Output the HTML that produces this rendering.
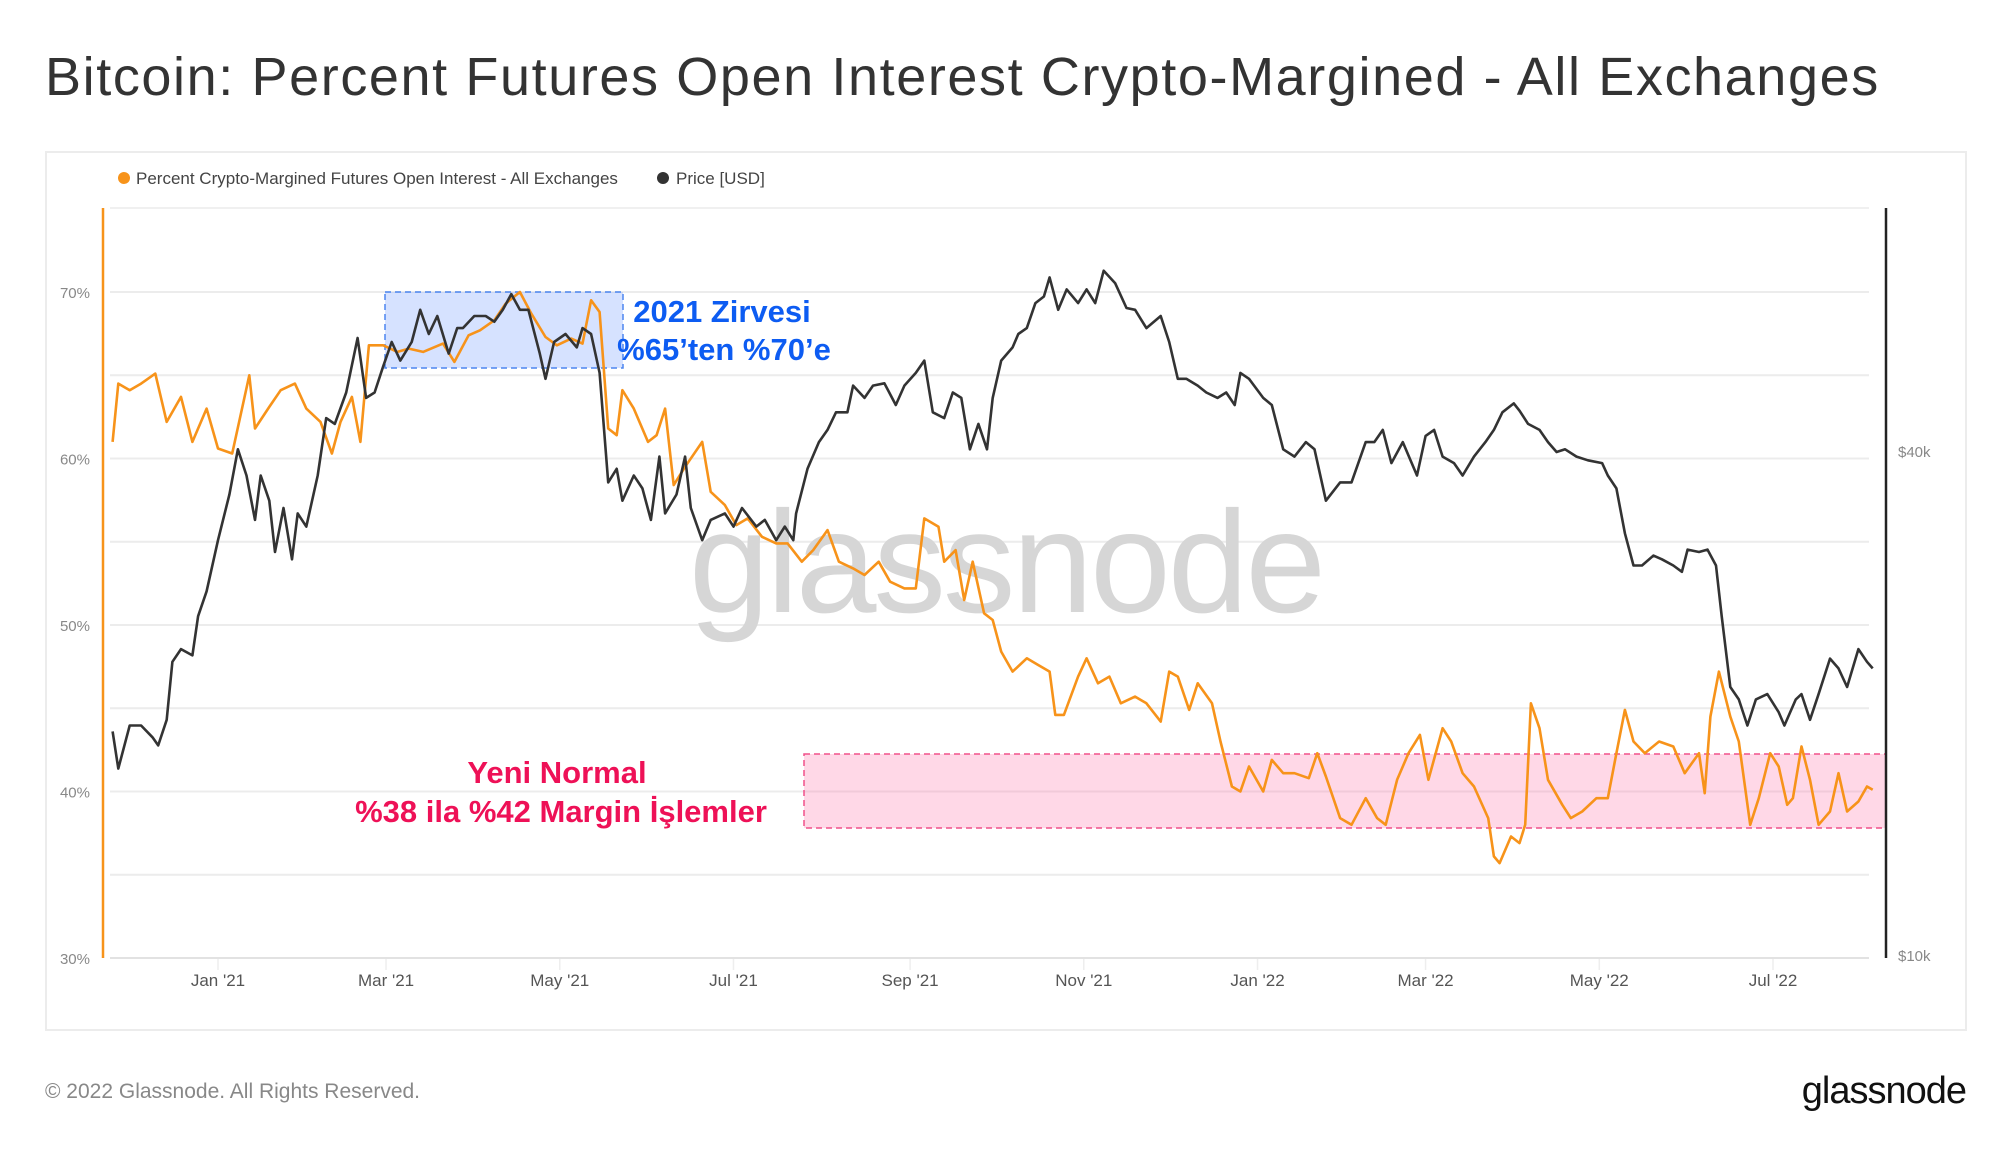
<!DOCTYPE html>
<html><head><meta charset="utf-8">
<style>
html,body{margin:0;padding:0;background:#fff;width:2000px;height:1152px;overflow:hidden;font-family:"Liberation Sans",sans-serif;}
#title{position:absolute;left:45px;top:46px;font-size:54px;letter-spacing:1.6px;color:#333;white-space:nowrap;}
#box{position:absolute;left:45px;top:151px;width:1922px;height:880px;border:2px solid #ececec;box-sizing:border-box;}
#foot{position:absolute;left:45px;top:1080px;font-size:21px;color:#888;}
#logo{position:absolute;right:34px;top:1070px;font-size:38px;color:#111;letter-spacing:-1px;}
svg{position:absolute;left:0;top:0;}
</style></head><body>
<div id="title">Bitcoin: Percent Futures Open Interest Crypto-Margined - All Exchanges</div>
<div id="box"></div>
<div id="foot">© 2022 Glassnode. All Rights Reserved.</div>
<div id="logo">glassnode</div>
<svg id="chart" width="2000" height="1152"></svg>
<script>
// day offsets from 2021-01-01
const pctDays=[-37,-35,-31,-27,-22,-18,-13,-9,-4,0,5,11,13,18,22,27,31,36,40,43,47,50,53,58,63,67,72,79,83,88,92,97,101,106,110,115,119,124,128,131,134,137,140,142,146,151,154,157,160,164,170,173,178,182,186,191,196,200,205,209,214,218,223,227,232,236,241,245,248,253,255,259,262,265,269,272,275,279,284,288,292,294,297,302,305,309,313,317,322,326,331,334,337,341,344,349,352,356,359,362,367,370,374,378,383,386,389,394,398,403,407,410,414,418,422,425,430,433,437,441,446,448,450,454,457,459,461,464,467,472,475,479,484,488,491,494,497,501,506,511,515,520,522,524,527,531,534,538,541,545,548,551,553,556,559,562,566,569,572,576,579,581];
const pctValues=[61,64.5,64.1,64.5,65.1,62.2,63.7,61,63,60.6,60.3,65,61.8,63.1,64.1,64.5,63,62.2,60.3,62.2,63.7,61,66.8,66.8,66.4,66.6,66.4,66.9,65.8,67.4,67.7,68.3,69.3,70,68.7,67.3,66.8,67.2,66.9,69.5,68.8,61.8,61.4,64.1,63,61,61.4,63,58.4,59.5,61,58,57.2,56,56.4,55.3,54.9,54.9,53.8,54.5,55.7,53.8,53.4,53,53.8,52.6,52.2,52.2,56.4,55.9,53.8,54.5,51.5,53.8,50.7,50.3,48.4,47.2,48,47.6,47.2,44.6,44.6,46.9,48,46.5,46.9,45.3,45.7,45.3,44.2,47.2,46.9,44.9,46.5,45.3,43,40.3,40,41.5,40,41.9,41.1,41.1,40.8,42.3,40.9,38.4,38,39.6,38.4,38,40.7,42.3,43.4,40.7,43.8,43,41.1,40.3,38.4,36.1,35.7,37.3,36.9,38,45.3,43.8,40.7,39.2,38.4,38.8,39.6,39.6,42.3,44.9,43,42.3,43,42.7,41.1,42.3,39.9,44.5,47.2,44.5,43,38,39.6,42.3,41.5,39.2,39.6,42.7,40.7,38,38.8,41.1,38.8,39.4,40.3,40.1];
const priceDays=[-37,-35,-31,-27,-23,-21,-18,-16,-13,-9,-7,-4,0,4,7,10,13,15,18,20,23,26,28,31,35,38,41,45,49,52,55,58,61,64,68,71,74,77,81,84,86,90,94,97,100,103,106,109,113,115,118,122,126,128,131,134,137,140,142,146,149,152,155,157,161,164,166,170,173,178,181,184,189,192,196,199,202,203,207,211,214,217,221,223,227,230,234,238,241,245,248,251,255,258,261,264,267,270,272,275,279,281,284,287,290,292,295,298,302,305,308,311,315,319,322,326,331,334,337,340,344,347,351,354,357,359,362,367,370,374,378,382,385,389,394,398,403,406,409,412,416,421,424,427,430,434,437,441,445,448,451,455,457,460,464,467,470,473,477,481,486,488,491,494,497,500,504,507,511,514,516,520,523,526,528,531,534,537,540,544,548,550,554,556,559,562,566,569,572,576,579,581];
const priceValues=[18.5,16.7,18.8,18.8,18.2,17.8,19.1,22.4,23.2,22.8,25.4,27.2,31.3,35.5,40.2,37.4,33.1,37.4,34.9,30.3,34.2,29.7,33.7,32.5,37.4,43.8,43.1,47,54.6,46.3,47,50.5,54,51.3,54,59,55.2,58,52.3,56.1,56.1,58,58,57.1,59,61.6,59,59,52.3,48.8,54,55.2,53.2,56.1,55.2,49.6,36.7,38.1,34.9,37.4,36.1,33.1,39.4,33.7,35.5,39.4,34.2,31.3,33.1,33.7,32.5,34.2,32.5,33.1,31.3,32.5,31.3,33.7,38.1,41,42.4,44.5,44.5,47.9,46.3,47.9,48.2,45.4,47.9,49.6,51.3,44.5,43.8,47,46.3,40.2,43.1,40.2,46.3,51.3,53.2,55.2,56.1,60.1,61.2,64.5,59,62.4,60.1,62.4,60.1,65.7,63.5,59.3,59,56.1,58,54,48.8,48.8,47.9,47,46.3,47,45.4,49.6,48.8,46.3,45.4,40.2,39.4,41,40.2,34.9,36.7,36.7,41,41,42.4,38.7,41,37.4,41.7,42.4,39.4,38.7,37.4,39.4,41,42.4,44.5,45.6,44.7,43.1,42.4,41,39.9,40.2,39.4,39,38.7,37.4,36.1,31.9,29.2,29.2,30,29.7,29.2,28.7,30.5,30.3,30.5,29.2,25.4,20.9,20.2,18.8,20.2,20.5,19.5,18.8,20.2,20.5,19.1,20.5,22.6,22,20.9,23.2,22.4,22,22.4];
const pctTicks=[30,40,50,60,70];
const pctGrid=[30,35,40,45,50,55,60,65,70];
const priceTicks=[10,40];
const xTickLabels=["Jan '21","Mar '21","May '21","Jul '21","Sep '21","Nov '21","Jan '22","Mar '22","May '22","Jul '22"];
const xTickDays=[0,59,120,181,243,304,365,424,485,546];

const NS="http://www.w3.org/2000/svg";
const svg=document.getElementById('chart');
const L=103,R=1886,T=208,B=958;
function xS(d){return 218+2.848*d;}
function yP(p){return B-(p-30)*16.65;}
function yPr(k){return 955-837*Math.log10(k/10);}
function mk(tag,attrs,parent){const e=document.createElementNS(NS,tag);for(const k in attrs)e.setAttribute(k,attrs[k]);(parent||svg).appendChild(e);return e;}

pctGrid.forEach(p=>{
  const g=mk('line',{x1:110,x2:1869,y1:yP(p),y2:yP(p),stroke:'#ececec','stroke-width':2});
  
  
});
const topG=mk('line',{x1:110,x2:1869,y1:T,y2:T,stroke:'#f0f0f0','stroke-width':2});


xTickDays.forEach((d,i)=>{
  const t=mk('line',{x1:xS(d),x2:xS(d),y1:B,y2:B+12,stroke:'#eee','stroke-width':1.5});
  
  
  const tx=mk('text',{x:xS(d),y:986,'text-anchor':'middle','font-size':17,fill:'#555','font-family':'Liberation Sans, sans-serif'});
  tx.textContent=xTickLabels[i];
  
  
});
pctTicks.forEach(p=>{
  const tx=mk('text',{x:90,y:yP(p)+6,'text-anchor':'end','font-size':15,fill:'#888','font-family':'Liberation Sans, sans-serif'});
  tx.textContent=p+'%';
  
  
});
priceTicks.forEach(k=>{
  const tx=mk('text',{x:1898,y:yPr(k)+6,'font-size':15,fill:'#888','font-family':'Liberation Sans, sans-serif'});
  tx.textContent='$'+k+'k';
  
  
});
const xa=mk('line',{x1:110,x2:1869,y1:B,y2:B,stroke:'#e2e2e2','stroke-width':2});



const wm=mk('text',{x:1006,y:612,'text-anchor':'middle','font-size':145,fill:'#d6d6d6','font-family':'Liberation Sans, sans-serif','letter-spacing':'-3'});
wm.textContent='glassnode';



const bb=mk('rect',{x:385,y:292,width:238,height:76,fill:'rgba(90,140,255,0.25)',stroke:'#4d86f0','stroke-width':1.5,'stroke-dasharray':'6 4'});


const pb=mk('rect',{x:804,y:754,width:1082,height:74,fill:'rgba(255,110,165,0.27)',stroke:'#f0508a','stroke-width':1.5,'stroke-dasharray':'6 4'});



function path(days,vals,ys,color,name){
  let d='';
  days.forEach((dd,i)=>{d+=(i?'L':'M')+xS(dd).toFixed(1)+' '+ys(vals[i]).toFixed(1);});
  const p=mk('path',{d:d,fill:'none',stroke:color,'stroke-width':2.6,'stroke-linejoin':'round'});
  
  
}
path(pctDays,pctValues,yP,'#f7931a','percent-crypto-margined-line');
path(priceDays,priceValues,yPr,'#333','price-line');

const la=mk('line',{x1:L,x2:L,y1:T,y2:B,stroke:'#f7931a','stroke-width':2.5});


const ra=mk('line',{x1:R,x2:R,y1:T,y2:B,stroke:'#222','stroke-width':2.5});



function txt(x,y,s,c,a,name){const t=mk('text',{x:x,y:y,'text-anchor':a,'font-size':31,'font-weight':'bold',fill:c,'font-family':'Liberation Sans, sans-serif'});t.textContent=s;

}
txt(722,322,'2021 Zirvesi','#0d5cf2','middle','peak-annotation-title');
txt(724,360,'%65’ten %70’e','#0d5cf2','middle','peak-annotation-range');
txt(557,783,'Yeni Normal','#ee1157','middle','new-normal-annotation-title');
txt(561,822,'%38 ila %42 Margin İşlemler','#ee1157','middle','new-normal-annotation-range');

const lg=mk('g',{});


const d1=mk('circle',{cx:124,cy:178,r:6,fill:'#f7931a'},lg);


const t1=mk('text',{x:136,y:184,'font-size':17,fill:'#444','font-family':'Liberation Sans, sans-serif'},lg);
t1.textContent='Percent Crypto-Margined Futures Open Interest - All Exchanges';


const d2=mk('circle',{cx:663,cy:178,r:6,fill:'#333'},lg);


const t2=mk('text',{x:676,y:184,'font-size':17,fill:'#444','font-family':'Liberation Sans, sans-serif'},lg);
t2.textContent='Price [USD]';


</script>
</body></html>
